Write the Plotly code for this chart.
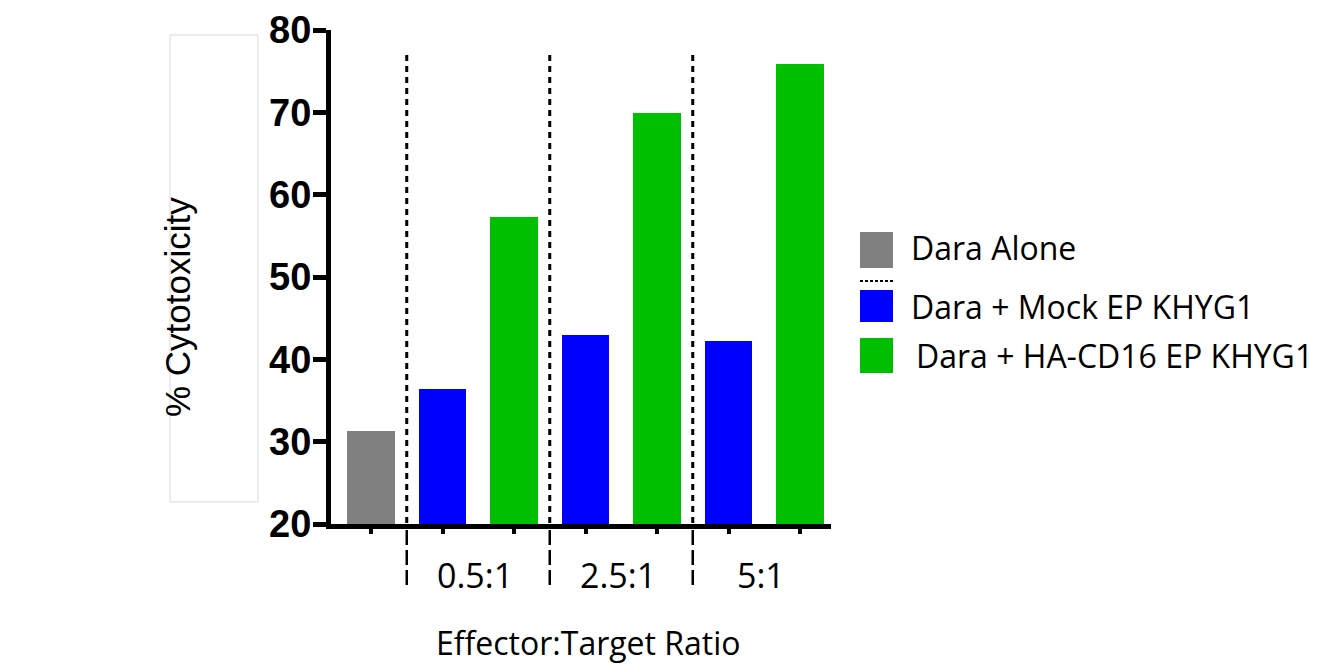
import plotly.graph_objects as go

# ---- data ----
ratios = ["0.5:1", "2.5:1", "5:1"]
series_names = ["Dara Alone", "Dara + Mock EP KHYG1", "Dara + HA-CD16 EP KHYG1"]
dara_alone = [31.3]
mock_ep = [36.4, 43.0, 42.2]
hacd16_ep = [57.3, 69.9, 75.9]
y_ticks = [20, 30, 40, 50, 60, 70, 80]
colors = ["#808080", "#0000FF", "#00BF00"]

OFF = 8  # page body margin
W, H = 1317 - OFF, 667 - OFF
L, R, T, B = 331, 831, 30, 524  # plot area in screen px


def pxx(x):
    return (x - L) / (R - L)


def pxy(y):
    return (B - y) / (B - T)


# bar positions: Dara alone at 0, then mock/HA pairs per ratio
pos_alone = [0]
pos_mock = [1 + 2 * i for i in range(len(ratios))]
pos_ha = [2 + 2 * i for i in range(len(ratios))]
bw = 0.67
unit_px = 71.5

fig = go.Figure()
fig.add_bar(x=pos_alone, y=dara_alone, width=bw, marker=dict(color=colors[0], line=dict(width=0)),
            name=series_names[0], showlegend=False)
fig.add_bar(x=pos_mock, y=mock_ep, width=bw, marker=dict(color=colors[1], line=dict(width=0)),
            name=series_names[1], showlegend=False)
fig.add_bar(x=pos_ha, y=hacd16_ep, width=bw, marker=dict(color=colors[2], line=dict(width=0)),
            name=series_names[2], showlegend=False)

shapes = []
annotations = []

# dashed separators between groups
for i in range(len(ratios)):
    xs = pos_mock[i] - 0.5
    shapes.append(dict(type="line", xref="x", yref="paper", x0=xs, x1=xs, y0=pxy(523), y1=pxy(55),
                       line=dict(color="black", width=3, dash="6px,5px")))
    shapes.append(dict(type="line", xref="x", yref="paper", x0=xs, x1=xs, y0=pxy(530), y1=pxy(590),
                       line=dict(color="black", width=2.5, dash="15px,5px")))
    # category label
    annotations.append(dict(text=ratios[i], xref="x", yref="paper", x=(pos_mock[i] + pos_ha[i]) / 2 - 0.05,
                            y=pxy(575), showarrow=False, xanchor="center", yanchor="middle",
                            font=dict(family="Open Sans", size=34, color="black")))

# y-axis title box
shapes.append(dict(type="rect", xref="paper", yref="paper", x0=pxx(170), x1=pxx(258), y0=pxy(502), y1=pxy(35),
                   line=dict(color="#d9d9d9", width=1), fillcolor="rgba(0,0,0,0)"))
annotations.append(dict(text="% Cytotoxicity", xref="paper", yref="paper", x=pxx(177), y=pxy(307),
                        textangle=-90, showarrow=False, xanchor="center", yanchor="middle",
                        font=dict(family="Liberation Sans", size=35, color="black")))

# x-axis title
annotations.append(dict(text="Effector:Target Ratio", xref="paper", yref="paper", x=pxx(588), y=pxy(666),
                        showarrow=False, xanchor="center", yanchor="bottom",
                        font=dict(family="Open Sans", size=32, color="black")))

# custom legend
leg_boxes = [(232, 268), (290, 322), (338, 373)]
leg_text_y = [247, 306, 355]
leg_text_x = [909, 909, 914]
for i in range(3):
    y0, y1 = leg_boxes[i]
    shapes.append(dict(type="rect", xref="paper", yref="paper", x0=pxx(860), x1=pxx(893), y0=pxy(y1), y1=pxy(y0),
                       line=dict(width=0), fillcolor=colors[i]))
    annotations.append(dict(text=series_names[i], xref="paper", yref="paper", x=pxx(leg_text_x[i]), y=pxy(leg_text_y[i]),
                            showarrow=False, xanchor="left", yanchor="middle",
                            font=dict(family="Open Sans", size=32, color="black")))
shapes.append(dict(type="line", xref="paper", yref="paper", x0=pxx(860), x1=pxx(893), y0=pxy(281), y1=pxy(281),
                   line=dict(color="black", width=2, dash="3px,2px")))

x_lo = -(371 - L) / unit_px
x_hi = x_lo + (R - L) / unit_px

fig.update_layout(
    width=W, height=H,
    margin=dict(l=L - OFF, r=W - (R - OFF), t=T - OFF, b=H - (B - OFF), pad=0, autoexpand=False),
    paper_bgcolor="white", plot_bgcolor="white",
    bargap=0, barmode="overlay",
    shapes=shapes, annotations=annotations,
    xaxis=dict(range=[x_lo, x_hi], showgrid=False, zeroline=False, showline=True, linecolor="black", linewidth=5,
               tickvals=pos_alone + pos_mock + pos_ha, ticks="outside", ticklen=5, tickwidth=4, tickcolor="black",
               showticklabels=False, automargin=False),
    yaxis=dict(range=[20, 80], tickvals=y_ticks, showgrid=False, zeroline=False, showline=True, linecolor="black",
               linewidth=5, ticks="outside", ticklen=13, tickwidth=5, tickcolor="black", automargin=False,
               ticklabelstandoff=-6,
               tickfont=dict(family="Liberation Sans", size=38, color="black", weight="bold")),
    showlegend=False,
)

fig.write_html("out.html")
